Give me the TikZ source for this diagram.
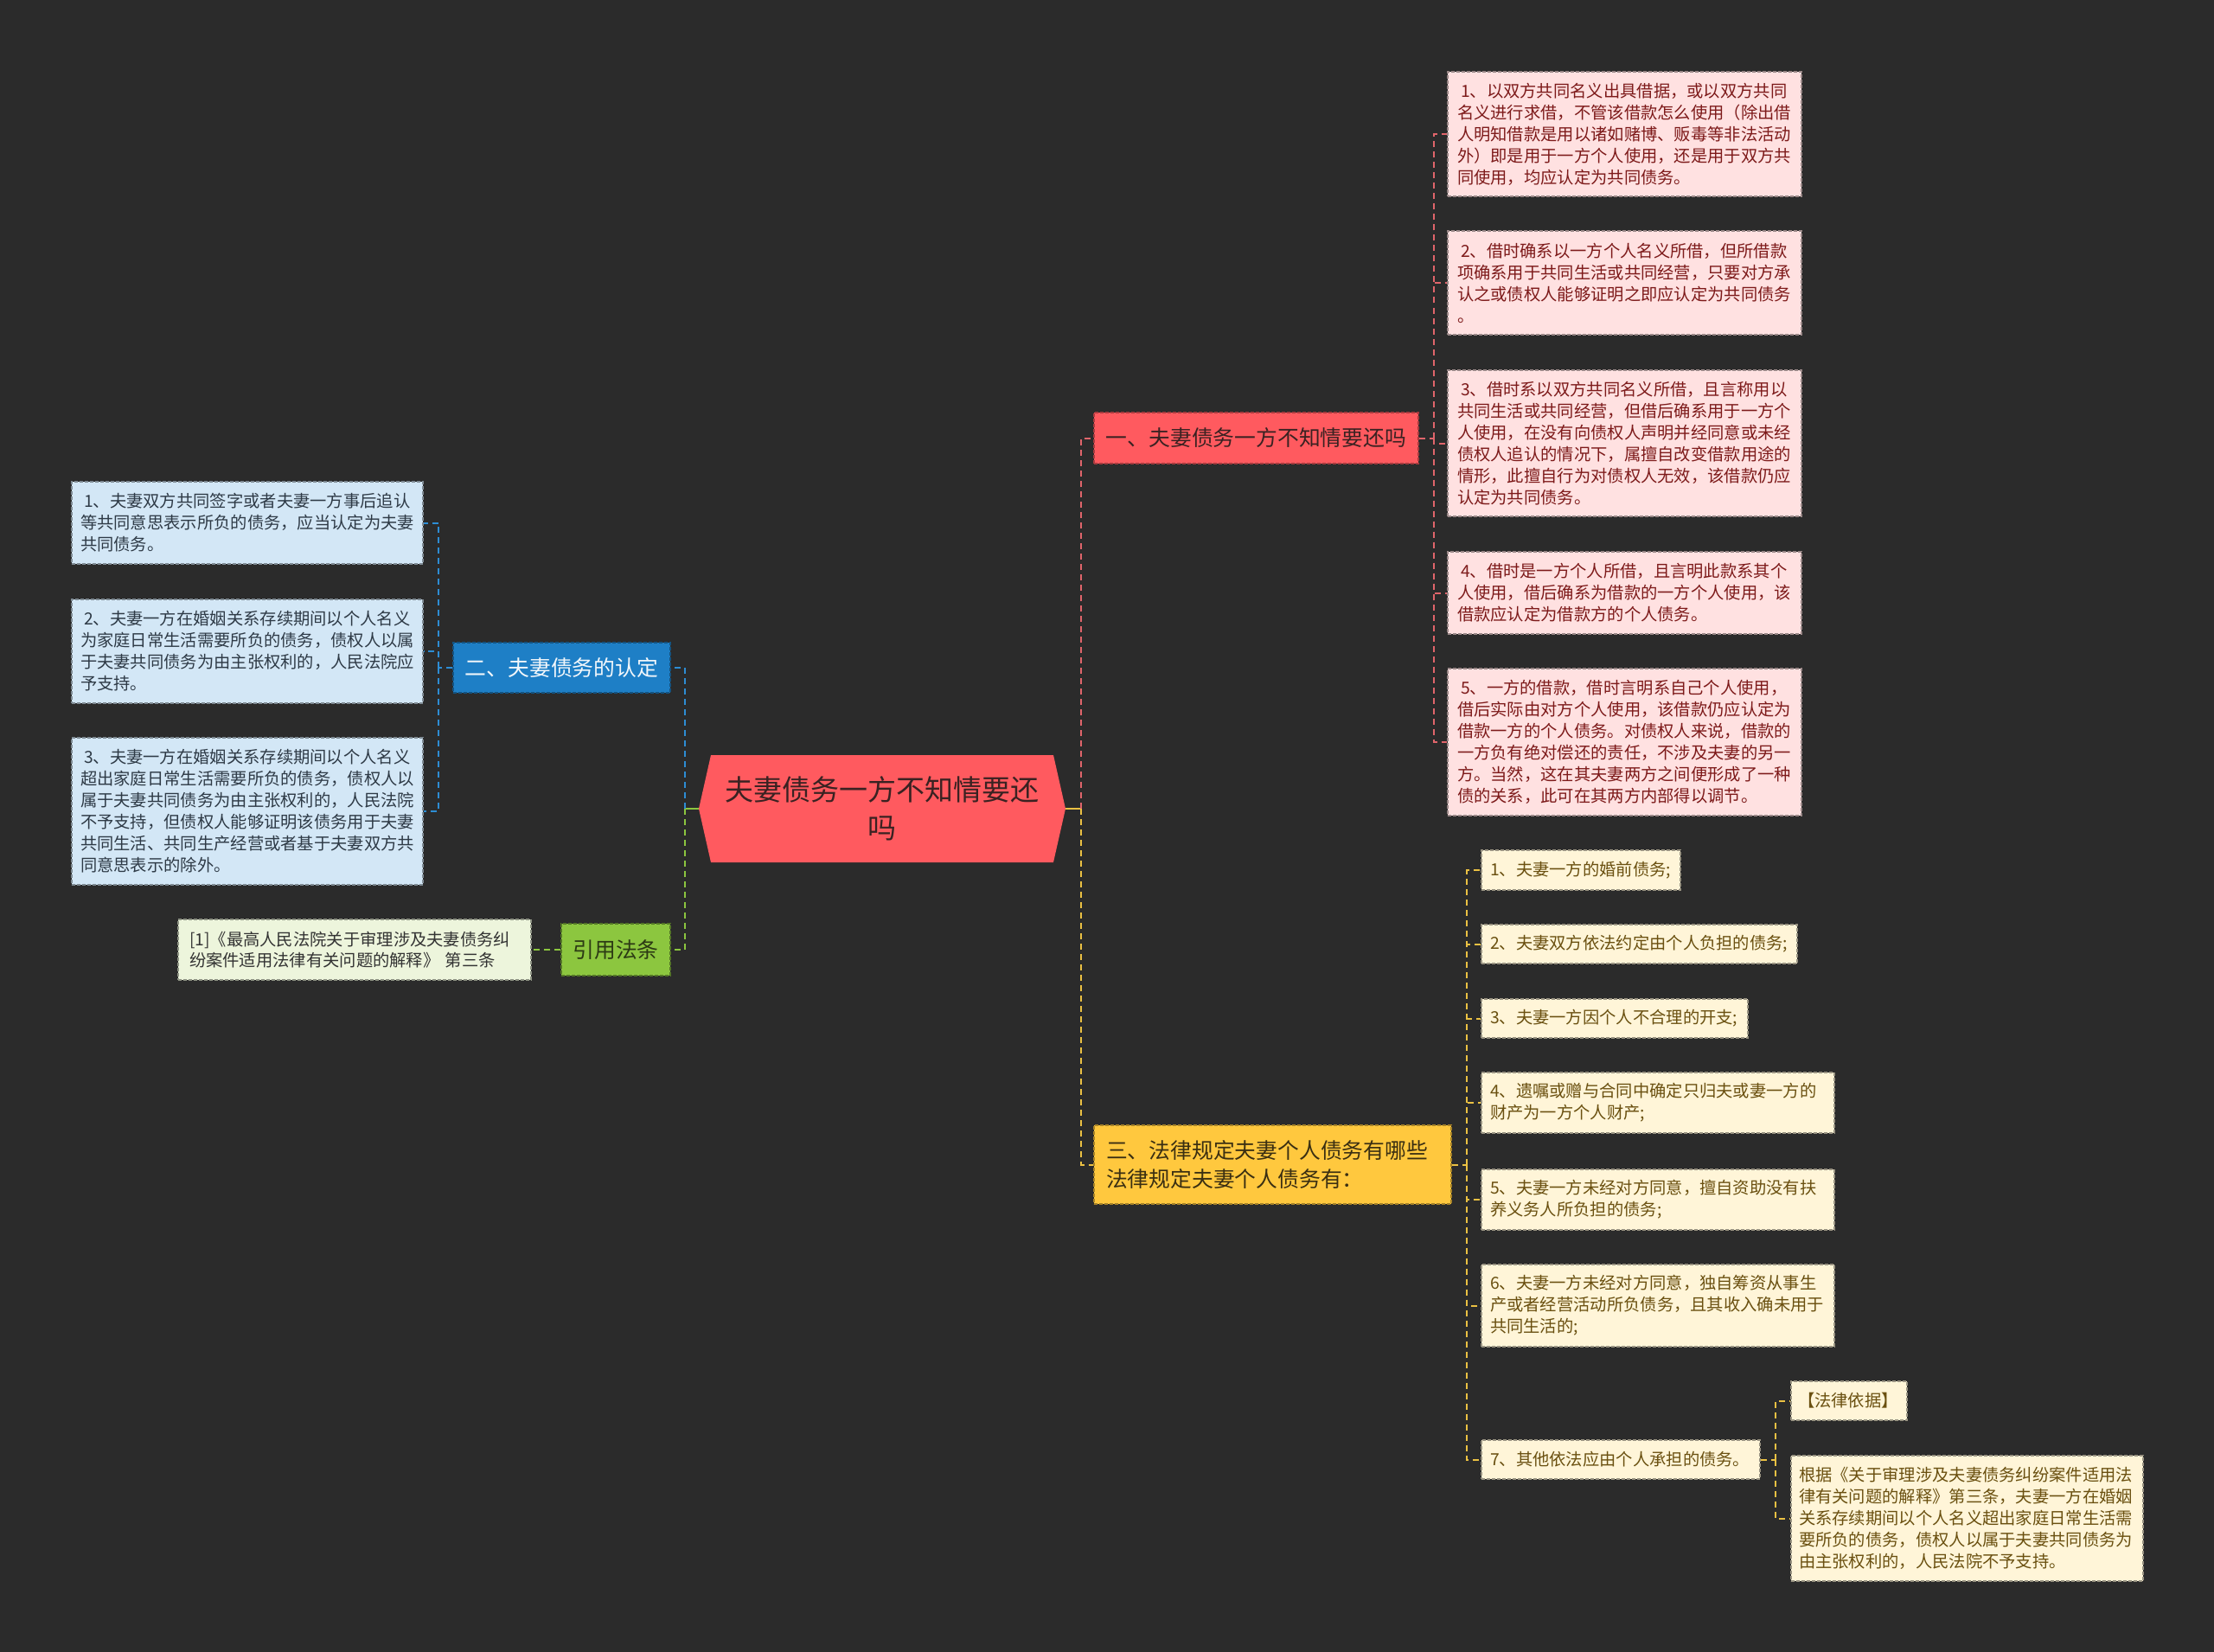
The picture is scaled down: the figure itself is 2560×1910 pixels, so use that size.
\documentclass[tikz,border=0pt]{standalone}
\usepackage{fontspec}
\setmainfont{Noto Sans CJK SC}
\definecolor{bg}{HTML}{2B2B2B}
\definecolor{rootfill}{HTML}{FF5A5F}
\definecolor{roottext}{HTML}{3A2222}
\definecolor{rline}{HTML}{E0656B}
\definecolor{rleaffill}{HTML}{FFE1E1}
\definecolor{rleaftext}{HTML}{7D1A1A}
\definecolor{bfill}{HTML}{1E7FC6}
\definecolor{bline}{HTML}{2D8DD4}
\definecolor{bleaffill}{HTML}{D3E7F6}
\definecolor{bleaftext}{HTML}{2E3A46}
\definecolor{btext}{HTML}{F2F7FB}
\definecolor{gfill}{HTML}{8CC63F}
\definecolor{gline}{HTML}{8CC63F}
\definecolor{gleaffill}{HTML}{EDF5DC}
\definecolor{gleaftext}{HTML}{333333}
\definecolor{gtext}{HTML}{2C3A14}
\definecolor{yfill}{HTML}{FFC83E}
\definecolor{yline}{HTML}{EBC143}
\definecolor{yleaffill}{HTML}{FFF5D8}
\definecolor{yleaftext}{HTML}{6A5010}
\definecolor{ytext}{HTML}{3A2F12}
\newcommand\lsp{\hspace*{4pt}}
\begin{document}
\begin{tikzpicture}[x=1pt,y=-1pt,
  leaf/.style={rectangle, inner sep=0pt, align=left, line width=1.2pt,
    dash pattern=on 4pt off 2pt, font=\fontsize{19.3}{25}\selectfont},
  rleaf/.style={leaf, fill=rleaffill, draw=rleaffill!60!black, text=rleaftext},
  bleaf/.style={leaf, fill=bleaffill, draw=bleaffill!60!black, text=bleaftext},
  gleaf/.style={leaf, fill=gleaffill, draw=gleaffill!60!black, text=gleaftext,
    font=\fontsize{19.3}{24}\selectfont},
  yleaf/.style={leaf, fill=yleaffill, draw=yleaffill!60!black, text=yleaftext},
  branch/.style={rectangle, inner sep=0pt, line width=1.2pt,
    dash pattern=on 4pt off 2pt, font=\fontsize{24.8}{33}\selectfont},
  con/.style={line width=2pt, dash pattern=on 7pt off 5pt},
  rcon/.style={con, draw=rline},
  bcon/.style={con, draw=bline},
  gcon/.style={con, draw=gline},
  ycon/.style={con, draw=yline},
]
\useasboundingbox (0,0) rectangle (2560,1910);
\fill[bg] (0,0) rectangle (2560,1910);

% root
\fill[rootfill] (822,873) -- (1218,873) -- (1232,935) -- (1218,997)
  -- (822,997) -- (808,935) -- cycle;
\node[inner sep=0pt, minimum width=396pt, minimum height=124pt, align=center,
  font=\fontsize{33}{44}\selectfont, text=roottext] (root) at (1020,935)
  {夫妻债务一方不知情要还\\吗};
\coordinate (rootL) at (808,935);
\coordinate (rootR) at (1232,935);
\coordinate (jL) at (792,935);
\coordinate (jR) at (1250,935);

% branches
\node[branch, fill=rootfill, draw=rootfill!65!black, text=roottext, align=center,
  minimum width=375pt, minimum height=59pt] (b1) at (1452.5,506.5)
  {一、夫妻债务一方不知情要还吗};
\node[branch, fill=bfill, draw=bfill!65!black, text=btext, align=center,
  minimum width=251pt, minimum height=58pt] (b2) at (649.5,772)
  {二、夫妻债务的认定};
\node[branch, fill=yfill, draw=yfill!65!black, text=ytext, align=left,
  minimum width=413pt, minimum height=91pt, text width=385pt] (b3) at (1471.5,1346.5)
  {三、法律规定夫妻个人债务有哪些\\法律规定夫妻个人债务有：};
\node[branch, fill=gfill, draw=gfill!60!black, text=gtext, align=center,
  minimum width=126pt, minimum height=60pt] (b4) at (712,1098)
  {引用法条};

% red leaves
\node[rleaf, minimum width=409pt, minimum height=144pt, text width=387pt] (r1) at (1878.5,155)
  {\lsp 1、以双方共同名义出具借据，或以双方共同\\名义进行求借，不管该借款怎么使用（除出借\\人明知借款是用以诸如赌博、贩毒等非法活动\\外）即是用于一方个人使用，还是用于双方共\\同使用，均应认定为共同债务。};
\node[rleaf, minimum width=409pt, minimum height=120pt, text width=387pt] (r2) at (1878.5,327)
  {\lsp 2、借时确系以一方个人名义所借，但所借款\\项确系用于共同生活或共同经营，只要对方承\\认之或债权人能够证明之即应认定为共同债务\\。};
\node[rleaf, minimum width=409pt, minimum height=169pt, text width=387pt] (r3) at (1878.5,512.5)
  {\lsp 3、借时系以双方共同名义所借，且言称用以\\共同生活或共同经营，但借后确系用于一方个\\人使用，在没有向债权人声明并经同意或未经\\债权人追认的情况下，属擅自改变借款用途的\\情形，此擅自行为对债权人无效，该借款仍应\\认定为共同债务。};
\node[rleaf, minimum width=409pt, minimum height=95pt, text width=387pt] (r4) at (1878.5,685.5)
  {\lsp 4、借时是一方个人所借，且言明此款系其个\\人使用，借后确系为借款的一方个人使用，该\\借款应认定为借款方的个人债务。};
\node[rleaf, minimum width=409pt, minimum height=170pt, text width=387pt] (r5) at (1878.5,858)
  {\lsp 5、一方的借款，借时言明系自己个人使用，\\借后实际由对方个人使用，该借款仍应认定为\\借款一方的个人债务。对债权人来说，借款的\\一方负有绝对偿还的责任，不涉及夫妻的另一\\方。当然，这在其夫妻两方之间便形成了一种\\债的关系，此可在其两方内部得以调节。};

% blue leaves
\node[bleaf, minimum width=406pt, minimum height=95pt, text width=386pt] (l1) at (286,604.5)
  {\lsp 1、夫妻双方共同签字或者夫妻一方事后追认\\等共同意思表示所负的债务，应当认定为夫妻\\共同债务。};
\node[bleaf, minimum width=406pt, minimum height=120pt, text width=386pt] (l2) at (286,753)
  {\lsp 2、夫妻一方在婚姻关系存续期间以个人名义\\为家庭日常生活需要所负的债务，债权人以属\\于夫妻共同债务为由主张权利的，人民法院应\\予支持。};
\node[bleaf, minimum width=406pt, minimum height=170pt, text width=386pt] (l3) at (286,938)
  {\lsp 3、夫妻一方在婚姻关系存续期间以个人名义\\超出家庭日常生活需要所负的债务，债权人以\\属于夫妻共同债务为由主张权利的，人民法院\\不予支持，但债权人能够证明该债务用于夫妻\\共同生活、共同生产经营或者基于夫妻双方共\\同意思表示的除外。};

% green leaf
\node[gleaf, minimum width=408pt, minimum height=70pt, text width=382pt] (g1) at (410,1098)
  {[1]《最高人民法院关于审理涉及夫妻债务纠\\纷案件适用法律有关问题的解释》 第三条};

% yellow leaves
\node[yleaf, minimum width=230pt, minimum height=46pt, text width=210pt] (y1) at (1828,1006)
  {1、夫妻一方的婚前债务;};
\node[yleaf, minimum width=365pt, minimum height=45pt, text width=345pt] (y2) at (1895.5,1091.5)
  {2、夫妻双方依法约定由个人负担的债务;};
\node[yleaf, minimum width=308pt, minimum height=45pt, text width=288pt] (y3) at (1867,1177.5)
  {3、夫妻一方因个人不合理的开支;};
\node[yleaf, minimum width=408pt, minimum height=70pt, text width=388pt] (y4) at (1917,1275)
  {4、遗嘱或赠与合同中确定只归夫或妻一方的\\财产为一方个人财产;};
\node[yleaf, minimum width=408pt, minimum height=70pt, text width=388pt] (y5) at (1917,1387)
  {5、夫妻一方未经对方同意，擅自资助没有扶\\养义务人所负担的债务;};
\node[yleaf, minimum width=408pt, minimum height=95pt, text width=388pt] (y6) at (1917,1509.5)
  {6、夫妻一方未经对方同意，独自筹资从事生\\产或者经营活动所负债务，且其收入确未用于\\共同生活的;};
\node[yleaf, minimum width=322pt, minimum height=45pt, text width=302pt] (y7) at (1874,1687.5)
  {7、其他依法应由个人承担的债务。};
\node[yleaf, minimum width=134pt, minimum height=45pt, text width=118pt] (y8) at (2138,1619.5)
  {【法律依据】};
\node[yleaf, minimum width=407pt, minimum height=145pt, text width=389pt] (y9) at (2274.5,1755.5)
  {根据《关于审理涉及夫妻债务纠纷案件适用法\\律有关问题的解释》第三条，夫妻一方在婚姻\\关系存续期间以个人名义超出家庭日常生活需\\要所负的债务，债权人以属于夫妻共同债务为\\由主张权利的，人民法院不予支持。};

% connectors from root
\draw[draw=yline, line width=2pt] (rootR) -- (jR);
\draw[draw=gline, line width=2pt] (rootL) -- (jL);
\draw[rcon] (jR) |- (b1.west);
\draw[ycon] (jR) |- (b3.west);
\draw[bcon] (jL) |- (b2.east);
\draw[gcon] (jL) |- (b4.east);

% red children
\coordinate (cr) at (1658,506.5);
\draw[rcon] (b1.east) -- (cr);
\foreach \n in {r1,r2,r3,r4,r5} \draw[rcon] (cr) |- (\n.west);

% blue children
\coordinate (cb) at (507,772);
\draw[bcon] (b2.west) -- (cb);
\foreach \n in {l1,l2,l3} \draw[bcon] (cb) |- (\n.east);

% green child
\draw[gcon] (b4.west) -- (g1.east);

% yellow children
\coordinate (cy) at (1696,1346.5);
\draw[ycon] (b3.east) -- (cy);
\foreach \n in {y1,y2,y3,y4,y5,y6,y7} \draw[ycon] (cy) |- (\n.west);
\coordinate (cy7) at (2053,1687.5);
\draw[ycon] (y7.east) -- (cy7);
\foreach \n in {y8,y9} \draw[ycon] (cy7) |- (\n.west);
\end{tikzpicture}
\end{document}
